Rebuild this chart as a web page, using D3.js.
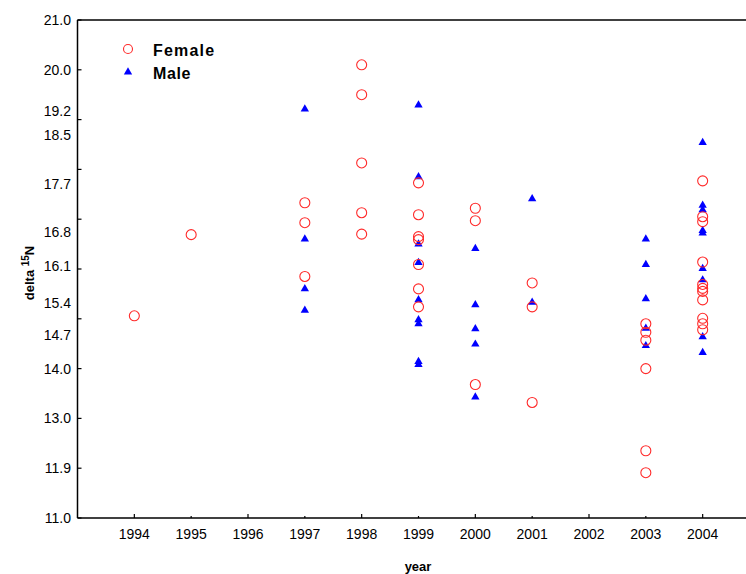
<!DOCTYPE html>
<html>
<head>
<meta charset="utf-8">
<script src="https://cdn.jsdelivr.net/npm/d3@7"></script>
<style>
 body { margin: 0; background: #fff; }
 text { font-family: "Liberation Sans", Arial, sans-serif; }
</style>
</head>
<body>
<script>
// delta 15N by year, female and male samples

var years = [1994, 1995, 1996, 1997, 1998, 1999, 2000, 2001, 2002, 2003, 2004];

// female values per year
var femaleYears = [1994, 1995, 1997, 1997, 1997, 1998, 1998, 1998, 1998, 1998,
  1999, 1999, 1999, 1999, 1999, 1999, 1999, 2000, 2000, 2000, 2001, 2001, 2001,
  2003, 2003, 2003, 2003, 2003, 2003,
  2004, 2004, 2004, 2004, 2004, 2004, 2004, 2004, 2004, 2004, 2004];
var femaleValues = [15.06, 16.69, 17.33, 16.93, 15.85, 20.10, 19.50, 18.13, 17.13, 16.70,
  17.73, 17.09, 16.65, 16.59, 16.09, 15.60, 15.24, 17.22, 16.97, 13.68, 15.72, 15.24, 13.32,
  14.90, 14.73, 14.57, 14.00, 12.35, 11.91,
  17.77, 17.05, 16.95, 16.14, 15.69, 15.61, 15.55, 15.38, 15.01, 14.90, 14.78];

// male values per year
var maleYears = [1997, 1997, 1997, 1997,
  1999, 1999, 1999, 1999, 1999, 1999, 1999, 1999, 1999,
  2000, 2000, 2000, 2000, 2000, 2001, 2001,
  2003, 2003, 2003, 2003, 2003,
  2004, 2004, 2004, 2004, 2004, 2004, 2004, 2004, 2004];
var maleValues = [19.21, 16.60, 15.60, 15.17,
  19.29, 17.85, 16.50, 16.13, 15.38, 14.98, 14.90, 14.14, 14.08,
  16.41, 15.28, 14.80, 14.49, 13.43, 17.41, 15.33,
  16.60, 16.09, 15.40, 14.81, 14.46,
  18.54, 17.28, 17.19, 16.77, 16.72, 16.01, 15.78, 14.64, 14.32];

// y tick labels as printed, and the value each one sits at
var yLabels = ["11.0", "11.9", "13.0", "14.0", "14.7", "15.4", "16.1", "16.8", "17.7", "18.5", "19.2", "20.0", "21.0"];
var yLabelAt = [11, 12, 13, 14, 14.67, 15.32, 16.05, 16.75, 17.7, 18.69, 19.17, 20, 21];
var yTicks = [11, 12, 13, 14, 15, 16, 17, 18, 19, 20, 21];

var width = 746, height = 574;
var plotLeft = 77.5, plotTop = 20, plotBottom = 518;

var svg = d3.select("body").append("svg")
  .attr("width", width)
  .attr("height", height);

var x = d3.scaleLinear().domain([1993, 2005]).range([plotLeft, 759.5]);
var y = d3.scaleLinear().domain([11, 21]).range([plotBottom, plotTop]);

// frame lines
svg.append("line").attr("x1", plotLeft).attr("x2", width).attr("y1", plotTop).attr("y2", plotTop)
  .attr("stroke", "#000").attr("stroke-width", 1.5);
svg.append("line").attr("x1", plotLeft).attr("x2", plotLeft).attr("y1", plotTop).attr("y2", plotBottom)
  .attr("stroke", "#000").attr("stroke-width", 1.5);
svg.append("line").attr("x1", plotLeft).attr("x2", width).attr("y1", plotBottom).attr("y2", plotBottom)
  .attr("stroke", "#000").attr("stroke-width", 1.5);

// y ticks (inside)
svg.selectAll(".ytick").data(yTicks).enter().append("line")
  .attr("x1", plotLeft).attr("x2", plotLeft + 4)
  .attr("y1", function(d) { return y(d); })
  .attr("y2", function(d) { return y(d); })
  .attr("stroke", "#000").attr("stroke-width", 1.2);

svg.selectAll(".ylab").data(yLabels).enter().append("text")
  .attr("x", 71)
  .attr("y", function(d, i) { return y(yLabelAt[i]); })
  .attr("dy", "0.35em")
  .attr("text-anchor", "end")
  .style("font-size", "14px")
  .text(function(d) { return d; });

// x ticks, even years a bit longer
svg.selectAll(".xtick").data(years).enter().append("line")
  .attr("x1", function(d) { return x(d); })
  .attr("x2", function(d) { return x(d); })
  .attr("y1", plotBottom)
  .attr("y2", function(d) { return d % 2 == 0 ? plotBottom - 4 : plotBottom - 2; })
  .attr("stroke", "#000").attr("stroke-width", 1.2);

svg.selectAll(".xlab").data(years).enter().append("text")
  .attr("x", function(d) { return x(d); })
  .attr("y", 539)
  .attr("text-anchor", "middle")
  .style("font-size", "14px")
  .text(function(d) { return d; });

// axis titles
svg.append("text")
  .attr("x", 418).attr("y", 571)
  .attr("text-anchor", "middle")
  .style("font-size", "13px").style("font-weight", "bold")
  .text("year");

var yt = svg.append("text")
  .attr("transform", "translate(34,273) rotate(-90)")
  .attr("text-anchor", "middle")
  .style("font-size", "13px").style("font-weight", "bold");
yt.append("tspan").text("delta ");
yt.append("tspan").attr("dy", -5).style("font-size", "10px").text("15");
yt.append("tspan").attr("dy", 5).text("N");

var tri = d3.symbol().type(d3.symbolTriangle).size(30);
var femaleColor = "#ff2a2a", maleColor = "#0000ff";

// male triangles
svg.selectAll(".male").data(maleValues).enter().append("path")
  .attr("d", tri)
  .attr("transform", function(d, i) { return "translate(" + x(maleYears[i]) + "," + y(d) + ")"; })
  .attr("fill", maleColor);

// female circles
svg.selectAll(".female").data(femaleValues).enter().append("circle")
  .attr("cx", function(d, i) { return x(femaleYears[i]); })
  .attr("cy", function(d) { return y(d); })
  .attr("r", 5)
  .attr("fill", "none")
  .attr("stroke", femaleColor)
  .attr("stroke-width", 1.1);

// legend
svg.append("circle").attr("cx", 128).attr("cy", 49).attr("r", 4.5)
  .attr("fill", "none").attr("stroke", femaleColor).attr("stroke-width", 1.1);
svg.append("path").attr("d", tri).attr("transform", "translate(128,72)").attr("fill", maleColor);
svg.append("text").attr("x", 153).attr("y", 56)
  .style("font-size", "16px").style("font-weight", "bold").style("letter-spacing", "1.2px")
  .text("Female");
svg.append("text").attr("x", 153).attr("y", 79)
  .style("font-size", "16px").style("font-weight", "bold").style("letter-spacing", "0.6px")
  .text("Male");
</script>
</body>
</html>
